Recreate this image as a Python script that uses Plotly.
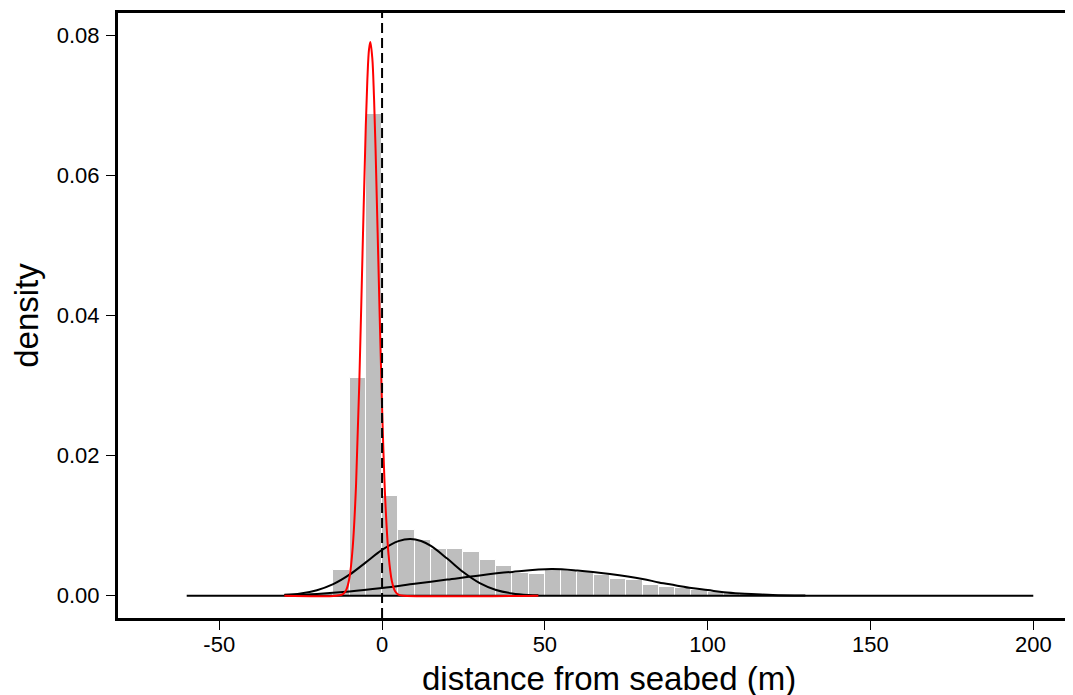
import plotly.graph_objects as go

# ---- histogram (bin width 5 m) ----
bin_left = [-25, -20, -15, -10, -5, 0, 5, 10, 15, 20, 25, 30, 35, 40, 45, 50, 55, 60,
            65, 70, 75, 80, 85, 90, 95, 100, 105, 110, 115, 120]
bin_density = [0.0001, 0.0003, 0.0037, 0.0310, 0.0688, 0.0143, 0.0094, 0.0079, 0.0067,
               0.0066, 0.0062, 0.0051, 0.0043, 0.0033, 0.0031, 0.0036, 0.0036, 0.0034,
               0.0029, 0.0024, 0.0022, 0.0015, 0.0013, 0.0011, 0.0008, 0.0006, 0.00045,
               0.0003, 0.0002, 0.0001]
bin_width = 5

# ---- red component (near seabed) ----
red_x = [-30, -14, -12, -11, -10, -9, -8, -7, -6, -5, -4.5, -4, -3.6, -3, -2.5, -2, -1,
         0, 1, 2, 3, 4, 5, 6, 48]
red_y = [0, 0.00001, 0.00022, 0.00083, 0.0026, 0.0070, 0.0157, 0.0302, 0.0489, 0.0671,
         0.0738, 0.0780, 0.0790, 0.0767, 0.0714, 0.0638, 0.0450, 0.0269, 0.0135, 0.0058,
         0.0021, 0.00064, 0.00017, 0.00004, 0]

# ---- black component A ----
a_x = [-30, -25, -20, -15, -10, -5, 0, 5, 8.7, 12, 15, 20, 25, 30, 35, 40, 45, 48]
a_y = [0.00012, 0.00033, 0.00079, 0.00165, 0.0030, 0.00476, 0.00654, 0.00779, 0.0081,
       0.0078, 0.0071, 0.0053, 0.00335, 0.0018, 0.00082, 0.00032, 0.0001, 0.00005]

# ---- black component B ----
b_x = [-30, -20, -10, 0, 10, 20, 30, 40, 52, 60, 70, 80, 85, 90, 95, 100, 105, 110,
       115, 120, 130]
b_y = [0.00005, 0.00025, 0.0006, 0.0011, 0.0017, 0.0023, 0.0029, 0.0034, 0.0038,
       0.0036, 0.0031, 0.0024, 0.0019, 0.0015, 0.0011, 0.0008, 0.00048, 0.0003,
       0.0002, 0.0001, 0.00002]

# ---- flat component ----
flat_x = [-60, 200]
flat_y = [0, 0]

seabed_x = 0

x_ticks = [-50, 0, 50, 100, 150, 200]
x_tick_text = ["-50", "0", "50", "100", "150", "200"]
y_ticks = [0, 0.02, 0.04, 0.06, 0.08]
y_tick_text = ["0.00", "0.02", "0.04", "0.06", "0.08"]

x_title = "distance from seabed (m)"
y_title = "density"

FONT = "Liberation Sans, Arial, sans-serif"

fig = go.Figure()
fig.add_trace(go.Bar(
    x=[b + bin_width / 2 for b in bin_left], y=bin_density, width=bin_width,
    marker=dict(color="#bebebe", line=dict(color="white", width=1)),
    hoverinfo="skip"))
fig.add_trace(go.Scatter(x=flat_x, y=flat_y, mode="lines",
                         line=dict(color="black", width=2)))
fig.add_trace(go.Scatter(x=b_x, y=b_y, mode="lines",
                         line=dict(color="black", width=2, shape="spline")))
fig.add_trace(go.Scatter(x=a_x, y=a_y, mode="lines",
                         line=dict(color="black", width=2, shape="spline")))
fig.add_vline(x=seabed_x, line=dict(color="black", width=2, dash="10px,5px"))
fig.add_trace(go.Scatter(x=red_x, y=red_y, mode="lines",
                         line=dict(color="red", width=2, shape="spline")))

fig.add_annotation(text=x_title, xref="paper", yref="paper", x=0.5, y=0,
                   xanchor="center", yanchor="top", xshift=13, yshift=-40,
                   showarrow=False, font=dict(size=33))

# page body adds an 8px offset, so the figure is 8px smaller than the window
fig.update_layout(
    width=1065, height=687,
    margin=dict(l=110, r=0, t=5, b=77),
    plot_bgcolor="white", paper_bgcolor="white",
    showlegend=False, bargap=0,
    font=dict(family=FONT, color="black", size=22),
    xaxis=dict(range=[-81.1, 212.2], showline=True, linewidth=3, linecolor="black",
               mirror=True, ticks="outside", ticklen=9, tickwidth=1, tickcolor="black",
               tickvals=x_ticks, ticktext=x_tick_text, showgrid=False, zeroline=False,
               automargin=False, tickfont=dict(size=22), ticklabelstandoff=-4),
    yaxis=dict(range=[-0.00318, 0.08315], showline=True, linewidth=3, linecolor="black",
               mirror=False, ticks="outside", ticklen=9, tickwidth=1, tickcolor="black",
               tickvals=y_ticks, ticktext=y_tick_text, showgrid=False, zeroline=False,
               automargin=False, tickfont=dict(size=22), ticklabelstandoff=2,
               title=dict(text=y_title, font=dict(size=33), standoff=18)),
)

fig.write_html("out.html")
